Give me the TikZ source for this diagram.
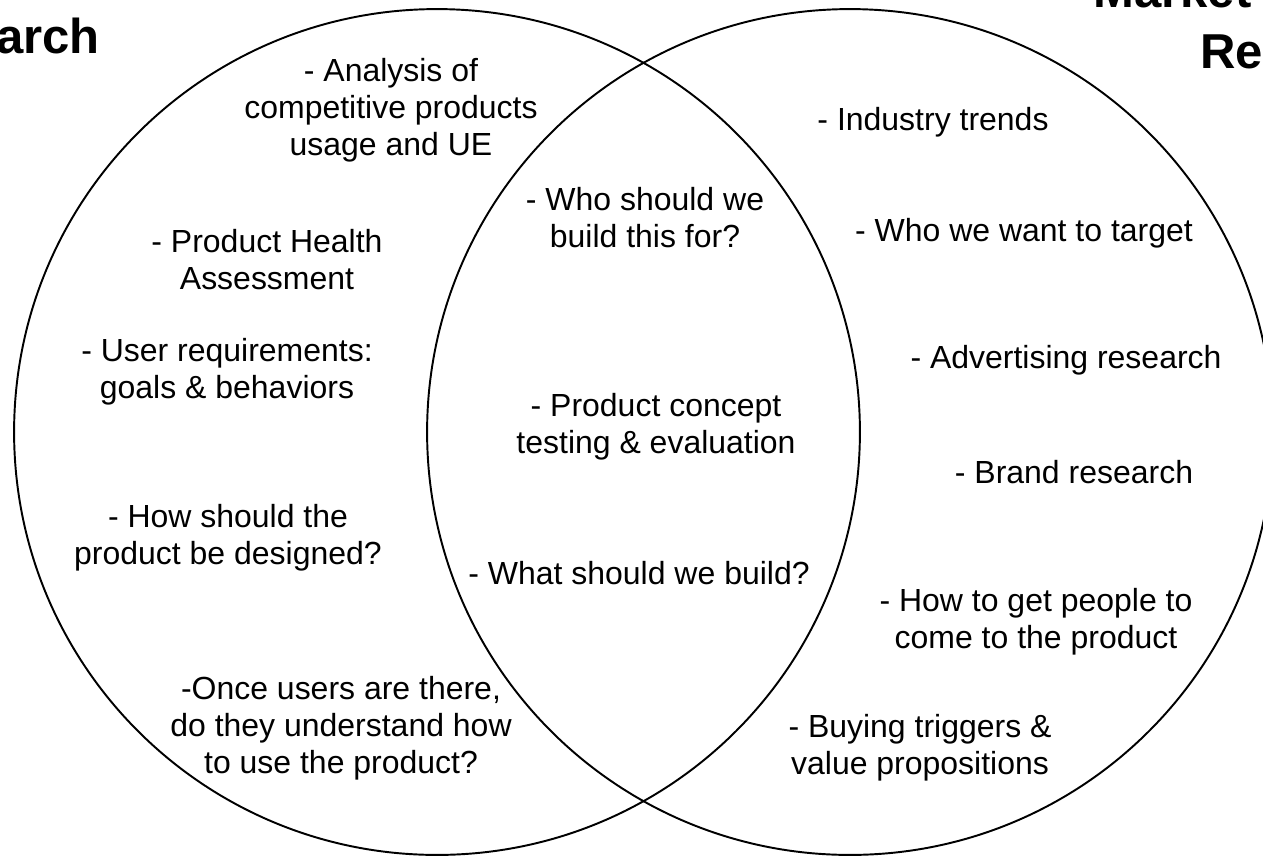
\documentclass[tikz,border=0pt]{standalone}
\usepackage{fontspec}
\setmainfont{Liberation Sans}
\usetikzlibrary{positioning}

\begin{document}
\begin{tikzpicture}[x=0.02cm, y=-0.02cm,
		every node/.style={font=\fontsize{18.2}{21}\selectfont, align=center, inner sep=0pt},
		area/.style={draw, circle, line width=1.1pt, minimum size=16.92cm},
		heading/.style={font=\fontsize{27.9}{34}\selectfont\bfseries}]
	\useasboundingbox (0,0) rectangle (1263,856);
	\clip (0,0) rectangle (1263,856);
	% the two overlapping areas
	\node[area] (ux) at (437,432) {};
	\node[area] (mr) at (850,432) {};
	% headings, running off the page
	\node[heading, anchor=base east] (uxtitle) at (100,53) {User Research};
	\node[heading, anchor=base west] (mrtitle) at (1093,7) {Market};
	\node[heading, anchor=base west] (mrtitle2) at (1200,68) {Research};
	% user research only
	\node (ux1) at (391,110) {- Analysis of\\competitive products\\usage and UE};
	\node (ux2) at (267,260) {- Product Health\\Assessment};
	\node (ux3) at (227,372) {- User requirements:\\goals \& behaviors};
	\node (ux4) at (228,538) {- How should the\\product be designed?};
	\node (ux5) at (341,728) {-Once users are there,\\do they understand how\\to use the product?};
	% shared
	\node (both1) at (645,218) {- Who should we\\build this for?};
	\node (both2) at (656,427) {- Product concept\\testing \& evaluation};
	\node (both3) at (639,573) {- What should we build?};
	% market research only
	\node (mr1) at (933,122) {- Industry trends};
	\node (mr2) at (1024,233) {- Who we want to target};
	\node (mr3) at (1066,360) {- Advertising research};
	\node (mr4) at (1074,472) {- Brand research};
	\node (mr5) at (1036,622) {- How to get people to\\come to the product};
	\node (mr6) at (920,748) {- Buying triggers \&\\value propositions};
\end{tikzpicture}
\end{document}
